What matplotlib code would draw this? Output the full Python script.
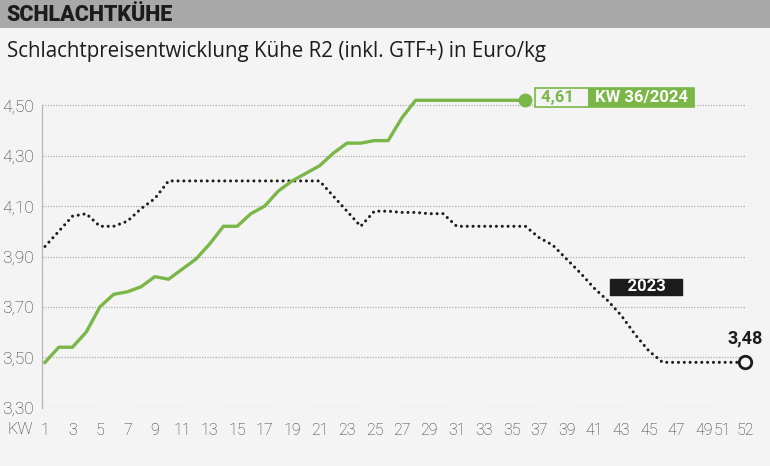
import matplotlib
matplotlib.use("Agg")
import matplotlib.pyplot as plt

# Schlachtpreise Kühe R2 (Euro/kg) je Kalenderwoche
weeks_2023 = list(range(1, 53))
price_2023 = [3.94, 4.00, 4.06, 4.07, 4.02, 4.02, 4.04, 4.09, 4.13, 4.20,
              4.20, 4.20, 4.20, 4.20, 4.20, 4.20, 4.20, 4.20, 4.20, 4.20, 4.20,
              4.14, 4.08, 4.02, 4.08, 4.08, 4.075, 4.075, 4.07, 4.07,
              4.02, 4.02, 4.02, 4.02, 4.02, 4.02,
              3.975, 3.945, 3.89, 3.835, 3.775, 3.725, 3.665, 3.59, 3.525,
              3.48, 3.48, 3.48, 3.48, 3.48, 3.48, 3.48]

weeks_2024 = list(range(1, 37))
price_2024 = [3.48, 3.54, 3.54, 3.60, 3.70, 3.75, 3.76, 3.78, 3.82, 3.81,
              3.85, 3.89, 3.95, 4.02, 4.02, 4.07, 4.10, 4.16, 4.20, 4.23,
              4.26, 4.31, 4.35, 4.35, 4.36, 4.36, 4.45, 4.52,
              4.52, 4.52, 4.52, 4.52, 4.52, 4.52, 4.52, 4.52]

y_ticks = [3.30, 3.50, 3.70, 3.90, 4.10, 4.30, 4.50]
x_ticks = list(range(1, 52, 2)) + [52]

GREEN = "#7ab648"
BLACK = "#1c1c1c"
BG = "#f4f4f4"
GRID = "#b0b0b0"
TICK = "#333333"

plt.rcParams["font.family"] = ["Roboto", "DejaVu Sans"]

fig = plt.figure(figsize=(7.7, 4.66), dpi=100)
fig.patch.set_facecolor(BG)

# Kopfzeile
fig.add_artist(plt.Rectangle((0, 1 - 28 / 466), 1, 28 / 466,
                             transform=fig.transFigure, color="#a8a8a8", lw=0))
fig.text(6 / 770, 1 - 15 / 466, "SCHLACHTKÜHE", weight="heavy",
         fontsize=15.5, color=BLACK, va="center", ha="left")
fig.text(7 / 770, 1 - 56.7 / 466,
         "Schlachtpreisentwicklung Kühe R2 (inkl. GTF+) in Euro/kg",
         family="Open Sans", fontsize=14.8, color=BLACK, va="baseline", ha="left")

ax = fig.add_axes([42 / 770, 0.1251, 703 / 770, 0.6813])
ax.set_facecolor(BG)
ax.set_xlim(0.78, 51.9)
ax.set_ylim(3.30, 4.56)

ax.set_yticks(y_ticks)
ax.set_yticklabels([f"{v:.2f}".replace(".", ",") for v in y_ticks],
                   fontweight="light")
ax.set_xticks(x_ticks)
ax.set_xticklabels([str(w) for w in x_ticks], fontweight="light")
ax.tick_params(axis="both", length=0, colors=TICK)
ax.tick_params(axis="y", pad=6, labelsize=12.5)
ax.tick_params(axis="x", pad=11, labelsize=11.5)
# 51 und 52 liegen eng beieinander
ax.get_xticklabels()[-2].set_horizontalalignment("right")

ax.yaxis.grid(True, color=GRID, lw=0.9, linestyle=(0, (1, 1.2)))
for s in ["top", "right", "bottom"]:
    ax.spines[s].set_visible(False)
ax.spines["left"].set_bounds(3.30, 4.50)
ax.spines["left"].set_color(GRID)
ax.spines["left"].set_linewidth(0.9)
ax.spines["left"].set_linestyle((0, (1, 1.2)))
ax.set_axisbelow(True)

# 2023 gepunktet, 2024 grün
ax.plot(weeks_2023, price_2023, color=BLACK, lw=2.2, linestyle=(0, (0.01, 1.9)),
        dash_capstyle="round", clip_on=False)
ax.plot(weeks_2024, price_2024, color=GREEN, lw=2.4, clip_on=False)
ax.plot(weeks_2024[-1], price_2024[-1], "o", ms=9, color=GREEN, clip_on=False)
ax.plot(weeks_2023[-1], price_2023[-1], "o", ms=9, mfc=BG, mec=BLACK, mew=2,
        clip_on=False)

pad = 0.12
fs = 12
t1 = ax.annotate(" 4,61   ", xy=(weeks_2024[-1], price_2024[-1]),
                 xytext=(12, 3), textcoords="offset pixels", ha="left", va="center",
                 fontsize=fs, weight="bold", color=GREEN,
                 bbox=dict(boxstyle=f"square,pad={pad}", fc=BG, ec=GREEN, lw=1.2))
ax.annotate(" KW 36/2024 ", xy=(1, 0), xycoords=t1,
            xytext=(2 * pad * fs, 0), textcoords="offset points",
            ha="left", va="bottom", fontsize=fs, weight="bold", color="white",
            bbox=dict(boxstyle=f"square,pad={pad}", fc=GREEN, ec=GREEN, lw=1.2))

ax.text(44.8, 3.78, "    2023    ", ha="center", va="center", fontsize=12,
        weight="bold", color="white",
        bbox=dict(boxstyle="square,pad=0.02", fc=BLACK, ec=BLACK))
ax.annotate("3,48", xy=(weeks_2023[-1], price_2023[-1]), xytext=(0, 24),
            textcoords="offset pixels", ha="center", va="center",
            fontsize=13, weight="bold", color=BLACK)

fig.text(20 / 770, 1 - 430 / 466, "KW", ha="center", va="center",
         fontsize=12, fontweight="light", color=TICK)

fig.savefig("out.png", dpi=100, facecolor=BG)
